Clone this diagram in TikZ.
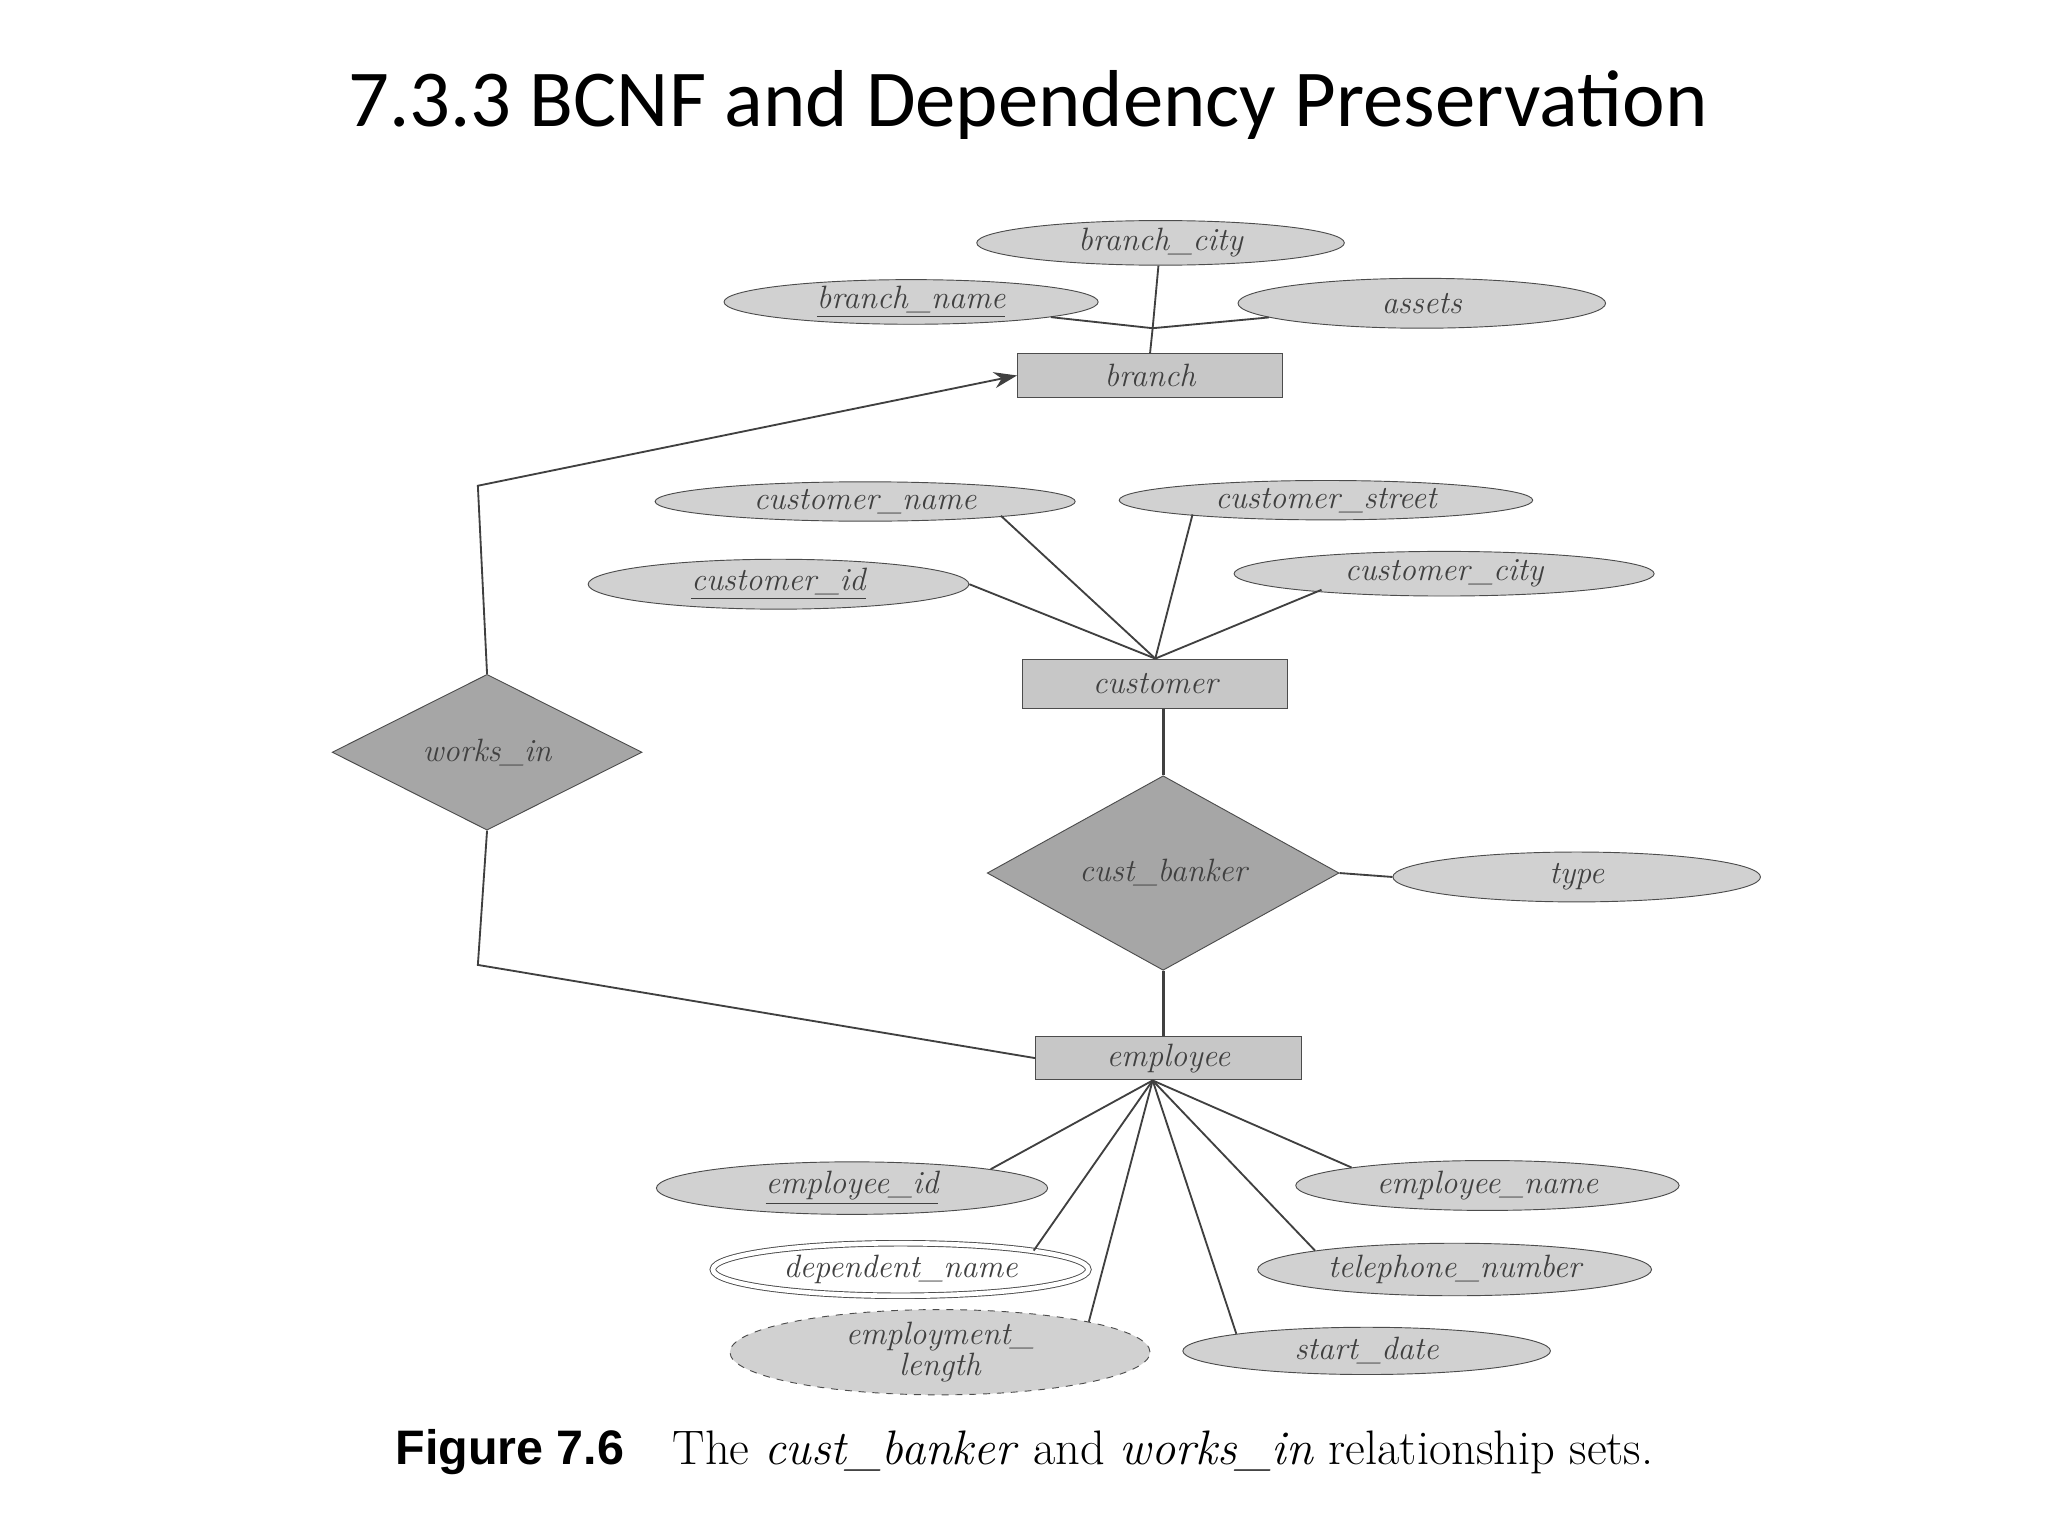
\documentclass[tikz,border=0pt]{standalone}
\usepackage{fontspec}
\setmainfont{Latin Modern Roman}
\newfontfamily\titlefont{Carlito}
\newfontfamily\capfont{Liberation Sans}
\usetikzlibrary{shapes.geometric,arrows.meta}
\begin{document}
\begin{tikzpicture}[x=0.02cm,y=-0.02cm,
  lbl/.style={font=\fontsize{14}{15}\selectfont\itshape,text=black!75},
  attr/.style={ellipse,draw=black!70,fill=black!18,minimum width=#1*0.02cm,minimum height=34*0.02cm,inner sep=0pt,lbl},
  ent/.style={rectangle,draw=black!70,fill=black!22,minimum width=202*0.02cm,minimum height=33*0.02cm,inner sep=0pt,lbl},
  rel/.style={diamond,draw=black!70,fill=black!35,inner sep=0pt,lbl},
  ln/.style={draw=black!75,line width=0.8pt}]
\useasboundingbox (0,0) rectangle (1560,1170);
\node[font=\titlefont\fontsize{35}{40}\selectfont] (title) at (783,80) {7.3.3 BCNF and Dependency Preservation};
% branch
\node[ent] (branch) at (876,286) {branch};
\node[attr=280] (bcity) at (884,185) {branch\_city};
\node[attr=285] (bname) at (694,230) {\underline{branch\_name}};
\node[attr=280,minimum height=38*0.02cm] (assets) at (1083,231) {assets};
\coordinate (bj) at (878,250);
\draw[ln] (bcity) -- (bj) -- (branch.north);
\draw[ln] (bname) -- (bj);
\draw[ln] (assets) -- (bj);
% customer
\node[ent,minimum height=38*0.02cm] (cust) at (880,521) {customer};
\node[attr=320,minimum height=30*0.02cm] (cname) at (659,382) {customer\_name};
\node[attr=315,minimum height=30*0.02cm] (cstreet) at (1010,381) {customer\_street};
\node[attr=290,minimum height=38*0.02cm] (cid) at (593,445) {\underline{customer\_id}};
\node[attr=320] (ccity) at (1100,437) {customer\_city};
\draw[ln] (cname.south east) ++(-10,0) coordinate (cn1) -- (cust.north);
\draw[ln] (cstreet.south west) ++(10,0) coordinate (cs1) -- (cust.north);
\draw[ln] (cid.east) -- (cust.north);
\draw[ln] (ccity.south west) ++(20,0) coordinate (cc1) -- (cust.north);
% relationships
\node[rel,minimum width=236*0.02cm,minimum height=104*0.02cm] (works) at (371,573) {works\_in};
\node[rel,minimum width=268*0.02cm,minimum height=118*0.02cm] (cb) at (886,665) {cust\_banker};
\node[attr=280,minimum height=38*0.02cm] (type) at (1201,668) {type};
\node[ent] (emp) at (890,806) {employee};
\coordinate (w1) at (364,370);
\coordinate (w2) at (364,735);
\draw[ln,-{Stealth[length=10pt,width=7pt]}] (works.north) -- (w1) -- (branch.west);
\draw[ln] (works.south) -- (w2) -- (emp.west);
\draw[ln,line width=1.4pt] (cb.north) -- (cb.north |- cust.south);
\draw[ln,line width=1.4pt] (cb.south) -- (cb.south |- emp.north);
\draw[ln] (cb.east) -- (type.west);
% employee attrs
\coordinate (ep) at (878,823);
\node[attr=298,minimum height=40*0.02cm] (eid) at (649,905) {\underline{employee\_id}};
\node[attr=292,minimum height=38*0.02cm] (ename) at (1133,903) {employee\_name};
\node[attr=286,minimum height=40*0.02cm,double,double distance=2pt,fill=white] (dep) at (686,967) {dependent\_name};
\node[attr=300,minimum height=40*0.02cm] (tel) at (1108,967) {telephone\_number};
\node[attr=320,minimum height=50*0.02cm,dashed,align=center,font=\fontsize{14}{11}\selectfont\itshape] (elen) at (716,1030) {employment\_\\length};
\node[attr=280,minimum height=36*0.02cm] (sdate) at (1041,1029) {start\_date};
\draw[ln] (ep) -- (eid.north east);
\draw[ln] (ep) -- (ename.north west);
\draw[ln] (ep) -- (dep.north east);
\draw[ln] (ep) -- (tel.north west);
\draw[ln] (ep) -- (elen.north east);
\draw[ln] (ep) -- (sdate.north west);
% caption
\node[anchor=west,font=\fontsize{21}{24}\selectfont] (cap) at (295,1106) {{\capfont\bfseries Figure 7.6}\quad The \textit{cust\_banker} and \textit{works\_in} relationship sets.};
\end{tikzpicture}
\end{document}
